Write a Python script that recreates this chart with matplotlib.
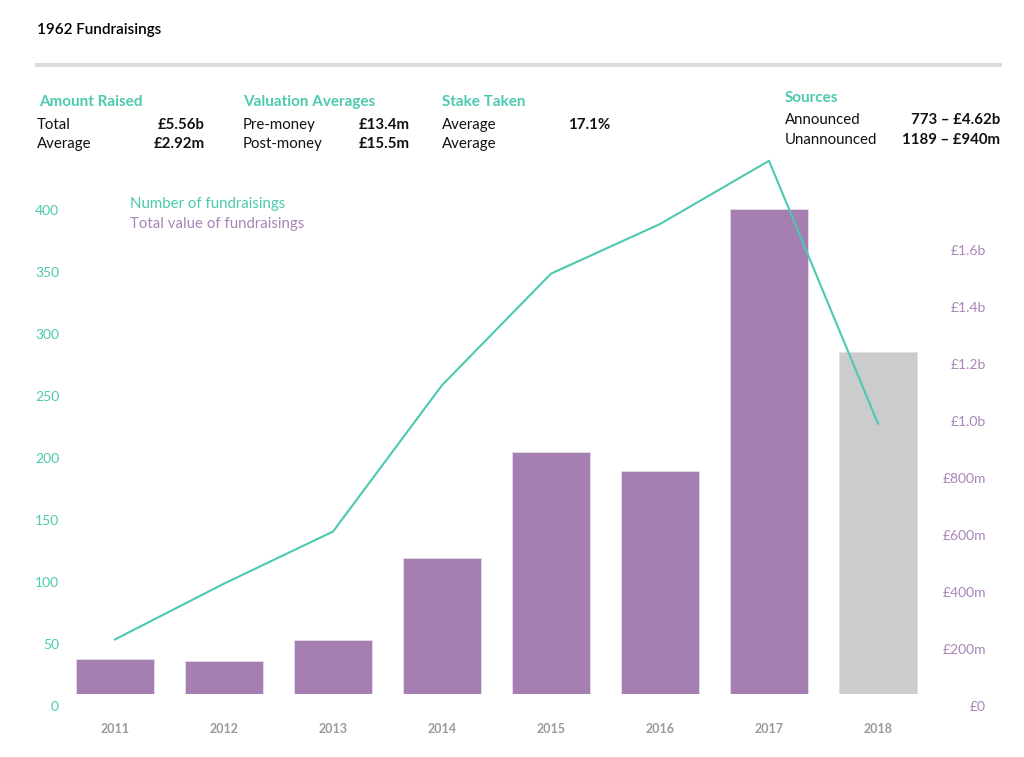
import matplotlib.pyplot as plt
from matplotlib.transforms import ScaledTranslation

# data
years = ['2011', '2012', '2013', '2014', '2015', '2016', '2017', '2018']
num_fundraisings = [44, 89, 131, 249, 339, 379, 430, 218]
total_value_m = [123, 116, 189, 477, 848, 782, 1700, 1199]

count_ticks = [0, 50, 100, 150, 200, 250, 300, 350, 400]
value_ticks = [0, 200, 400, 600, 800, 1000, 1200, 1400, 1600]
value_tick_labels = ['£0', '£200m', '£400m', '£600m', '£800m',
                     '£1.0b', '£1.2b', '£1.4b', '£1.6b']

teal = '#4cc9b0'
purple = '#a57fb1'
purple_text = '#a985b8'
grey_bar = '#cccccc'

plt.rcParams['font.family'] = ['Lato', 'DejaVu Sans']

W, H = 1024, 757
fig = plt.figure(figsize=(W / 100, H / 100), dpi=100)

# axes placed in pixel units
left, right, top, bottom = 66, 940, 150, 694
ax = fig.add_axes([left / W, 1 - bottom / H, (right - left) / W, (bottom - top) / H])
ax2 = ax.twinx()

x = list(range(len(years)))
colors = [purple] * (len(years) - 1) + [grey_bar]
ax2.bar(x, total_value_m, width=0.72, color=colors, edgecolor='#e6dcea', linewidth=0.6, zorder=1)
ax.plot(x, num_fundraisings, color=teal, linewidth=1.5, zorder=3)
ax.set_zorder(ax2.get_zorder() + 1)
ax.patch.set_visible(False)

ax.set_xlim((left - 115) / 109, (right - 115) / 109)
ax.set_ylim(0, (bottom - top) / 1.24)
ax2.set_ylim(0, (bottom - top) / 0.2853)

ax.set_xticks(x)
ax.set_xticklabels(years, fontsize=9, color='#9a9a9a', fontweight='bold')
ax.tick_params(axis='x', length=0, pad=21)

ax.set_yticks(count_ticks)
ax.set_yticklabels([str(t) for t in count_ticks], fontsize=10, color=teal)
ax.tick_params(axis='y', length=0, pad=5)

ax2.set_yticks(value_ticks)
ax2.set_yticklabels(value_tick_labels, fontsize=10, color=purple_text, ha='right')
ax2.tick_params(axis='y', length=0, pad=33)

shift = ScaledTranslation(0, -0.12, fig.dpi_scale_trans)
for lab in ax.get_yticklabels() + ax2.get_yticklabels():
    lab.set_transform(lab.get_transform() + shift)

for a in (ax, ax2):
    for s in a.spines.values():
        s.set_visible(False)


def px(xp, yp):
    return xp / W, 1 - yp / H


# header
fig.text(*px(37, 30), '1962 Fundraisings', fontsize=11, fontweight='semibold', va='center')
fig.add_artist(plt.Line2D([37 / W, 1000 / W], [1 - 65 / H] * 2, color='#dddddd', linewidth=3))

# summary blocks
head_kw = dict(fontsize=11, fontweight='bold', color=teal, va='center')
txt_kw = dict(fontsize=10.8, va='center', color='#111111')
val_kw = dict(fontsize=10.8, va='center', ha='right', fontweight='bold', color='#111111')

fig.text(*px(39, 102), 'Amount Raised', **head_kw)
fig.text(*px(37, 125), 'Total', **txt_kw)
fig.text(*px(205, 125), '£5.56b', **val_kw)
fig.text(*px(37, 144), 'Average', **txt_kw)
fig.text(*px(205, 144), '£2.92m', **val_kw)

fig.text(*px(243, 102), 'Valuation Averages', **head_kw)
fig.text(*px(243, 125), 'Pre-money', **txt_kw)
fig.text(*px(410, 125), '£13.4m', **val_kw)
fig.text(*px(243, 144), 'Post-money', **txt_kw)
fig.text(*px(410, 144), '£15.5m', **val_kw)

fig.text(*px(442, 102), 'Stake Taken', **head_kw)
fig.text(*px(442, 125), 'Average', **txt_kw)
fig.text(*px(610, 125), '17.1%', **val_kw)
fig.text(*px(442, 144), 'Average', **txt_kw)

fig.text(*px(785, 98), 'Sources', **head_kw)
fig.text(*px(785, 120), 'Announced', **txt_kw)
fig.text(*px(1000, 120), '773 – £4.62b', **val_kw)
fig.text(*px(785, 140), 'Unannounced', **txt_kw)
fig.text(*px(1000, 140), '1189 – £940m', **val_kw)

# legend
fig.text(*px(130, 204), 'Number of fundraisings', fontsize=10.8, color=teal, va='center')
fig.text(*px(130, 224), 'Total value of fundraisings', fontsize=10.8, color=purple_text, va='center')

fig.savefig('out.png', dpi=100, facecolor='white')
